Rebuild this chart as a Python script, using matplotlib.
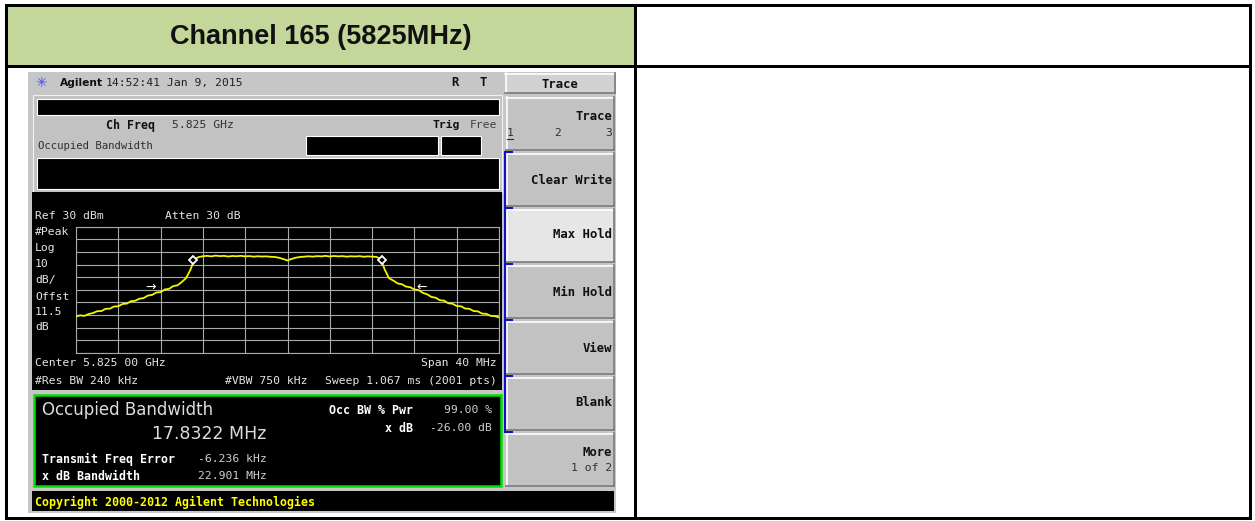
import numpy as np
import matplotlib
matplotlib.use('Agg')
import matplotlib.pyplot as plt
from matplotlib.patches import Rectangle

W, H = 1255, 521

# --- spectrum analyser settings / readings ---
center_mhz = 5825.0
span_mhz = 40.0
ref_dbm = 30
db_per_div = 10

# trace, 0.4 MHz per point
trace_left = [-41.0, -40.2, -40.6, -39.1, -38.4, -36.9, -36.8, -35.0, -34.9, -33.2,
              -33.0, -31.2, -30.9, -29.0, -28.6, -27.0, -26.5, -24.5, -24.0, -22.1,
              -21.8, -19.7, -19.2, -17.0, -16.4, -13.8, -10.8, -4.5, 4.2]
trace_top = [6.0, 6.6, 6.9, 6.5, 7.1, 6.7, 6.9, 6.4, 6.8, 6.6,
             6.9, 6.5, 6.7, 6.3, 6.6, 6.4, 6.5, 6.2, 6.0, 5.4,
             4.4, 3.3, 4.5, 5.5, 6.0, 6.3, 6.6, 6.3, 6.7, 6.5,
             6.9, 6.4, 6.8, 6.5, 6.7, 6.3, 6.6, 6.4, 6.7, 6.2,
             6.5, 6.3, 6.1]
trace_right = [4.5, -4.0, -10.8, -12.6, -14.9, -15.5, -17.4, -17.9, -19.7, -20.2,
               -22.4, -23.5, -25.6, -26.2, -28.2, -28.5, -30.6, -31.0, -32.8, -33.0,
               -34.8, -35.0, -36.8, -37.0, -38.8, -39.0, -40.6, -40.8, -41.8]
trace_dbm = trace_left + trace_top + trace_right

marker_mhz = [5816.05, 5833.9]
marker_dbm = [3.7, 3.7]
arrow_mhz = [5812.0, 5837.7]
arrow_dbm = [-17.5, -17.5]
arrow_txt = ['\u2192', '\u2190']

left_labels = ['#Peak', 'Log', '10', 'dB/', 'Offst', '11.5', 'dB']
softkeys = ['Trace', 'Clear Write', 'Max Hold', 'Min Hold', 'View', 'Blank', 'More']

title = 'Channel 165 (5825MHz)'
occ_bw = '17.8322 MHz'
occ_pwr = '99.00 %'
x_db = '-26.00 dB'
freq_err = '-6.236 kHz'
xdb_bw = '22.901 MHz'

fig = plt.figure(figsize=(W / 100, H / 100), dpi=100)
bg = fig.add_axes([0, 0, 1, 1])
bg.set_xlim(0, W)
bg.set_ylim(H, 0)
bg.axis('off')


def box(x0, y0, x1, y1, fc, ec='none', lw=0, z=1):
    bg.add_patch(Rectangle((x0, y0), x1 - x0, y1 - y0, facecolor=fc,
                           edgecolor=ec, linewidth=lw, zorder=z))


def bevel(x0, y0, x1, y1, fc):
    box(x0, y0, x1, y1, fc, z=2)
    bg.plot([x0, x1], [y0 + 0.5, y0 + 0.5], color='white', lw=1.2, zorder=3)
    bg.plot([x0 + 0.5, x0 + 0.5], [y0, y1], color='white', lw=1.2, zorder=3)
    bg.plot([x0, x1], [y1 - 0.5, y1 - 0.5], color='#7a7a7a', lw=1.2, zorder=3)
    bg.plot([x1 - 0.5, x1 - 0.5], [y0, y1], color='#7a7a7a', lw=1.2, zorder=3)


MONO = 'DejaVu Sans Mono'


def txt(x, y, s, size=8.2, bold=False, color='#e6e6e6', ha='left', fam=MONO):
    bg.text(x, y, s, fontsize=size, fontweight='bold' if bold else 'normal',
            color=color, ha=ha, va='center', family=fam, zorder=6)


# --- table ---
box(8, 7, 634, 65, '#c4d79b')
for x0, y0, x1, y1 in [(5, 4, 1252, 7), (5, 517, 1252, 520), (5, 4, 8, 520),
                       (1249, 4, 1252, 520), (634, 4, 637, 520), (5, 65, 1252, 68)]:
    box(x0, y0, x1, y1, 'black', z=4)
bg.text(321, 37, title, fontsize=19.5, fontweight='bold', ha='center', va='center',
        family=['Liberation Sans', 'DejaVu Sans'], color='#111111', zorder=6)

# --- instrument screenshot ---
box(28, 72, 616, 513, '#c6c6c6')

# header line
txt(41, 83, '\u2733', size=10, color='#4a4aff', ha='center', fam='DejaVu Sans')
txt(60, 83, 'Agilent', size=7.7, bold=True, color='#101010', fam='DejaVu Sans')
txt(106, 83, '14:52:41', color='#202020')
txt(167, 83, 'Jan 9, 2015', color='#202020')
txt(455, 83, 'R', size=8.8, bold=True, color='#101010', ha='center')
txt(483, 83, 'T', size=8.8, bold=True, color='#101010', ha='center')

# measurement panel
box(33, 95, 502, 192, '#c2c2c2', ec='#f2f2f2', lw=0.8)
box(37, 99, 499, 115, 'black', ec='white', lw=0.8, z=2)
box(306, 136, 438, 155, 'black', ec='white', lw=0.8, z=2)
box(441, 136, 481, 155, 'black', ec='white', lw=0.8, z=2)
box(37, 158, 499, 189, 'black', ec='white', lw=0.8, z=2)
txt(155, 125, 'Ch Freq', size=8.4, bold=True, color='#101010', ha='right')
txt(172, 125, '5.825 GHz', color='#303030')
txt(460, 125, 'Trig', size=8.2, bold=True, color='#101010', ha='right')
txt(497, 125, 'Free', color='#404040', ha='right')
txt(38, 146, 'Occupied Bandwidth', size=7.7, color='#303030')

# screen
box(32, 192, 502, 390, 'black')
txt(35, 216, 'Ref 30 dBm')
txt(165, 216, 'Atten 30 dB')
for lab, yy in zip(left_labels, [232, 248, 264, 280, 297, 312, 327]):
    txt(35, yy, lab)
txt(35, 363, 'Center 5.825 00 GHz')
txt(497, 363, 'Span 40 MHz', ha='right')
txt(35, 381, '#Res BW 240 kHz')
txt(225, 381, '#VBW 750 kHz')
txt(497, 381, 'Sweep 1.067 ms (2001 pts)', ha='right')

# results box
box(34, 395, 501, 486, 'black', ec='#00e000', lw=1.8, z=2)
txt(42, 410, 'Occupied Bandwidth', size=12, color='#dcdcdc', fam='DejaVu Sans')
txt(152, 434, occ_bw, size=12.5, color='#dcdcdc', fam='DejaVu Sans')
txt(413, 410, 'Occ BW % Pwr', size=8.4, bold=True, ha='right', color='white')
txt(492, 410, occ_pwr, ha='right', color='#d0d0d0')
txt(413, 428, 'x dB', size=8.4, bold=True, ha='right', color='white')
txt(492, 428, x_db, ha='right', color='#d0d0d0')
txt(42, 459, 'Transmit Freq Error', size=8.4, bold=True, color='white')
txt(198, 459, freq_err, color='#d0d0d0')
txt(42, 476, 'x dB Bandwidth', size=8.4, bold=True, color='white')
txt(198, 476, xdb_bw, color='#d0d0d0')

# copyright bar
box(32, 491, 614, 511, 'black')
txt(35, 502, 'Copyright 2000-2012 Agilent Technologies', size=8.4, bold=True,
    color='#ffff00')

# softkeys
bevel(505, 73, 615, 93, '#d2d2d2')
txt(560, 84, 'Trace', size=8.8, bold=True, color='#101010', ha='center')
label_y = [117, 180, 234, 292, 348, 403, 452]
for k, (lab, ly) in enumerate(zip(softkeys, label_y)):
    top = 97 + 56 * k
    bevel(506, top, 614, top + 53, '#e6e6e6' if lab == 'Max Hold' else '#c2c2c2')
    txt(612, ly, lab, size=8.8, bold=True, color='#101010', ha='right')
txt(507, 133, '1', color='#303030')
bg.plot([507, 513], [139, 139], color='#303030', lw=0.8, zorder=6)
txt(558, 133, '2', color='#303030', ha='center')
txt(612, 133, '3', color='#303030', ha='right')
txt(612, 468, '1 of 2', color='#303030', ha='right')
bg.plot([505, 505], [152, 432], color='#1010c8', lw=1.5, zorder=5)
for ty in [152, 208, 264, 320, 376, 432]:
    bg.plot([505, 512], [ty, ty], color='#1010c8', lw=1.5, zorder=5)

# --- spectrum grid ---
ax = fig.add_axes([76 / W, 1 - 353 / H, 423 / W, 126.3 / H])
ax.set_facecolor('black')
f0 = center_mhz - span_mhz / 2
f1 = center_mhz + span_mhz / 2
ax.set_xlim(f0, f1)
ax.set_ylim(ref_dbm - 10 * db_per_div, ref_dbm)
ax.set_xticks(np.linspace(f0, f1, 11))
ax.set_yticks(np.arange(ref_dbm - 10 * db_per_div, ref_dbm + 1, db_per_div))
ax.grid(True, color='#a9a9a9', lw=0.8)
ax.tick_params(length=0, labelbottom=False, labelleft=False)
for sp in ax.spines.values():
    sp.set_color('#a9a9a9')
    sp.set_linewidth(0.8)

freq_mhz = np.linspace(f0, f1, len(trace_dbm))
ax.plot(freq_mhz, trace_dbm, color='#f5f500', lw=1.3, zorder=3)
ax.plot(marker_mhz, marker_dbm, ls='none', marker='D', ms=4.5, mfc='black',
        mec='white', mew=1.3, zorder=4)
for fm, lv, s in zip(arrow_mhz, arrow_dbm, arrow_txt):
    ax.text(fm, lv, s, color='white', fontsize=9, ha='center', va='center', zorder=4)

fig.savefig('out.png', dpi=100)
